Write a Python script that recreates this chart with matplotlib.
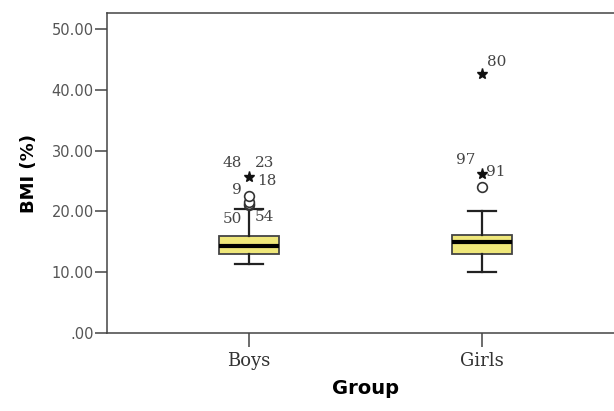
import matplotlib
matplotlib.use("Agg")
import matplotlib.pyplot as plt

# data (BMI %, by group)
groups = ["Boys", "Girls"]
medians = [14.3, 15.0]
q1 = [13.0, 13.0]
q3 = [15.9, 16.1]
whis_lo = [11.4, 10.1]
whis_hi = [20.4, 20.1]

# mild outliers (circles) and extreme outliers (stars)
circle_vals = [[21.0, 21.3, 21.6, 22.5], [24.0]]
star_vals = [[25.7], [26.2, 42.6]]

# case labels: (group index, value, case id)
case_labels = [
    (0, 25.7, "48"), (0, 25.7, "23"), (0, 25.7, "18"),
    (0, 22.5, "9"), (0, 21.0, "50"), (0, 21.0, "54"),
    (1, 42.6, "80"), (1, 26.2, "91"), (1, 24.0, "97"),
]
# label offsets in pixels, same order as case_labels
label_offsets = [(-17, 14), (16, 14), (18, -4), (-12, 6), (-17, -14),
                 (15, -12), (15, 12), (14, 2), (-16, 27)]

yticks = [0, 10, 20, 30, 40, 50]
ytick_labels = [".00", "10.00", "20.00", "30.00", "40.00", "50.00"]

fig = plt.figure(figsize=(6.14, 4.11), dpi=100)
ax = fig.add_axes([0.1743, 0.1898, 0.842, 0.778])

positions = list(range(1, len(groups) + 1))
stats = []
for i in range(len(groups)):
    stats.append(dict(med=medians[i], q1=q1[i], q3=q3[i],
                      whislo=whis_lo[i], whishi=whis_hi[i], fliers=[]))

ax.bxp(stats, positions=positions, widths=0.257, capwidths=0.12,
       patch_artist=True, showfliers=False,
       boxprops=dict(facecolor="#efe77a", edgecolor="#444444", linewidth=1.3),
       medianprops=dict(color="black", linewidth=3),
       whiskerprops=dict(color="#222222", linewidth=1.6),
       capprops=dict(color="#222222", linewidth=1.6))

for i, p in enumerate(positions):
    ax.plot([p] * len(circle_vals[i]), circle_vals[i], "o", mfc="white",
            mec="#333333", ms=7, mew=1.2, zorder=4)
    ax.plot([p] * len(star_vals[i]), star_vals[i], "*", color="#111111",
            ms=8, zorder=4)

for (gi, val, cid), (dx, dy) in zip(case_labels, label_offsets):
    ax.annotate(cid, (positions[gi], val), xytext=(dx, dy),
                textcoords="offset pixels", ha="center", va="center",
                fontsize=11, family="DejaVu Serif", color="#444444")

ax.set_xlim(0.39, 2.61)
ax.set_ylim(0, 52.6)
ax.set_xticks(positions)
ax.set_xticklabels(groups, family="DejaVu Serif", fontsize=13, color="#333333")
ax.set_yticks(yticks)
ax.set_yticklabels(ytick_labels, fontsize=10.5, color="#555555")
ax.tick_params(axis="y", length=8.5, width=1.1, color="#444444", pad=1)
ax.tick_params(axis="x", length=10, width=1.1, color="#444444", pad=4)

for s in ax.spines.values():
    s.set_linewidth(1.1)
    s.set_color("#444444")

ax.set_ylabel("BMI (%)", fontsize=13, fontweight="bold", labelpad=10)
ax.set_xlabel("Group", fontsize=14, fontweight="bold", labelpad=6)

fig.savefig("out.png", dpi=100)
